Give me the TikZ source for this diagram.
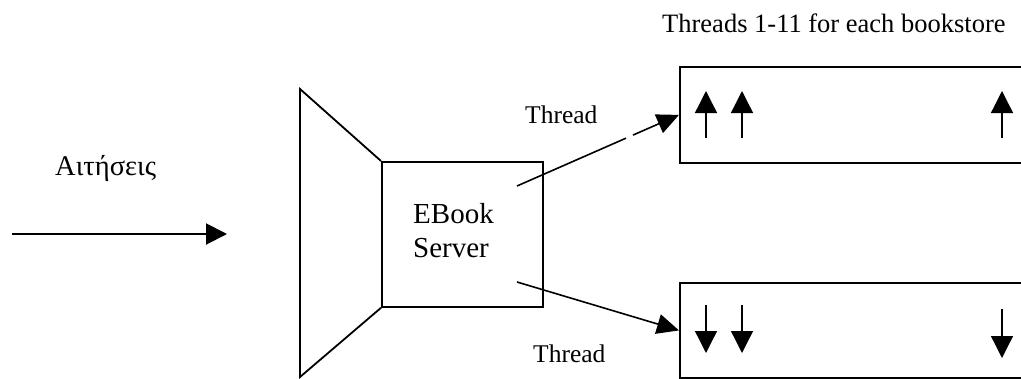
\documentclass[tikz,border=0pt]{standalone}
\usepackage{fontspec}
\setmainfont{Liberation Serif}
\usetikzlibrary{arrows.meta,calc}
\begin{document}
\begin{tikzpicture}[x=1pt,y=-1pt,
  frame/.style={line width=1.8pt},
  link/.style={line width=1.6pt},
  bigtip/.style={-{Triangle[length=22pt,width=20pt]}},
  slot/.style={line width=1.3pt,-{Triangle[length=22pt,width=22pt]}},
  box/.style={draw,frame,inner sep=0pt,anchor=north west},
  label/.style={inner sep=0pt,anchor=base west,font=\fontsize{25.5}{30}\selectfont}]
\useasboundingbox (0,0) rectangle (1021,378);
\clip (0,0) rectangle (1021,378);

% server box and its funnel
\node[box,minimum width=161pt,minimum height=145pt] (srv) at (381,161) {};
\draw[frame,line join=miter] (srv.north west) -- (300,89) -- (300,377) -- (srv.south west);
\node[inner sep=0pt,anchor=base west,align=left,
      font=\fontsize{29}{34}\selectfont] (srvtext) at (413,257) {EBook\\Server};

% bookstore thread pools (open to the right)
\node[box,minimum width=400pt,minimum height=96pt] (storeUp) at (679,66) {};
\node[box,minimum width=400pt,minimum height=95pt] (storeDn) at (679,282) {};

% incoming requests
\coordinate (reqStart) at (12,234);
\coordinate (reqEnd) at (227,234);
\draw[line width=2pt,-{Triangle[length=21pt,width=21pt]}] (reqStart) -- (reqEnd);
\node[label,font=\fontsize{28.5}{32}\selectfont] (reqLabel) at (55,175) {Αιτήσεις};

% threads from the server to the pools
\coordinate (srvUp) at (517,186);
\coordinate (srvDn) at (517,282);
\draw[link] (srvUp) -- ($(srvUp)!0.673!(storeUp.west)$);
\draw[link,bigtip] ($(srvUp)!0.716!(storeUp.west)$) -- (storeUp.west);
\draw[link,bigtip] (srvDn) -- (storeDn.west);
\node[label] (thUp) at (525,123) {Thread};
\node[label] (thDn) at (533,362) {Thread};
\node[label,font=\fontsize{26.5}{30}\selectfont] (title) at (662,32) {Threads 1-11 for each bookstore};

% thread markers inside the pools
\foreach \x in {706,742,1002} \draw[slot] (\x,138) -- (\x,91);
\foreach \x in {706,742} \draw[slot] (\x,305) -- (\x,353);
\draw[slot] (1002,309) -- (1002,358);
\end{tikzpicture}
\end{document}
